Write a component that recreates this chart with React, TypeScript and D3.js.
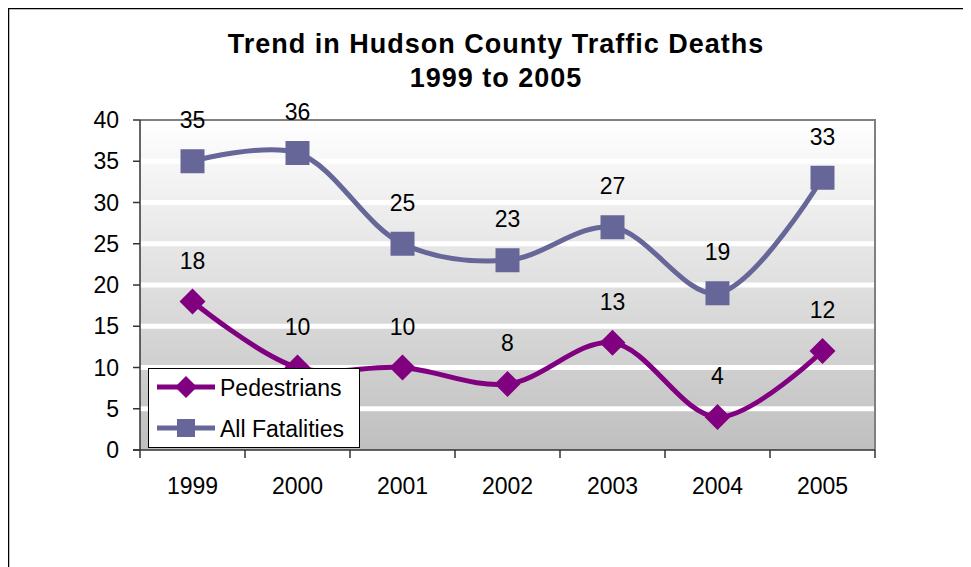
import React from "react";
import * as d3 from "d3";

// chart data
const years = ["1999", "2000", "2001", "2002", "2003", "2004", "2005"];
const pedestrians = [18, 10, 10, 8, 13, 4, 12];
const allFatalities = [35, 36, 25, 23, 27, 19, 33];
const yTicks = [0, 5, 10, 15, 20, 25, 30, 35, 40];

const W = 971;
const H = 567;
const plot = { left: 140, right: 875, top: 120, bottom: 450 };
const font = "'Liberation Sans', Arial, sans-serif";

const PED_COLOR = "#800080";
const ALL_COLOR = "#666699";

const App = () => {
  const x = d3
    .scaleBand()
    .domain(years)
    .range([plot.left, plot.right]);
  const y = d3.scaleLinear().domain([0, 40]).range([plot.bottom, plot.top]);
  const cx = (yr: string) => (x(yr) ?? 0) + x.bandwidth() / 2;

  const line = d3
    .line<number>()
    .x((_, i) => cx(years[i]))
    .y((d) => y(d))
    .curve(d3.curveCatmullRom.alpha(0.5));

  const square = d3.symbol(d3.symbolSquare, 576)();
  const diamond = (s: number) =>
    `M0,${-s}L${s},0L0,${s}L${-s},0Z`;

  return (
    <svg width={W - 8} height={H - 8} style={{ display: "block" }}>
      <defs>
        <linearGradient id="bg" x1="0" y1="0" x2="0" y2="1">
          <stop offset="0%" stopColor="#ffffff" />
          <stop offset="100%" stopColor="#bfbfbf" />
        </linearGradient>
      </defs>
      <g transform="translate(-8,-8)">
        {/* outer frame */}
        <rect x={8.5} y={8.5} width={1200} height={1200} fill="#fff" stroke="#000" strokeWidth={1.5} />

        {/* title */}
        <text x={496} y={53} textAnchor="middle" fontFamily={font} fontWeight="bold" fontSize={27} letterSpacing={1}>
          Trend in Hudson County Traffic Deaths
        </text>
        <text x={496} y={87} textAnchor="middle" fontFamily={font} fontWeight="bold" fontSize={27} letterSpacing={1}>
          1999 to 2005
        </text>

        {/* plot area */}
        <rect
          x={plot.left}
          y={plot.top}
          width={plot.right - plot.left}
          height={plot.bottom - plot.top}
          fill="url(#bg)"
        />
        {yTicks.slice(1).map((t) => (
          <line key={t} x1={plot.left} x2={plot.right} y1={y(t)} y2={y(t)} stroke="#fff" strokeWidth={5} />
        ))}
        <path
          d={`M${plot.left},${plot.top}H${plot.right}V${plot.bottom}`}
          fill="none"
          stroke="#808080"
          strokeWidth={2}
        />

        {/* axes */}
        <line x1={plot.left} x2={plot.left} y1={plot.top} y2={plot.bottom} stroke="#333" strokeWidth={1.5} />
        <line x1={plot.left - 7} x2={plot.right} y1={plot.bottom} y2={plot.bottom} stroke="#333" strokeWidth={1.5} />
        {yTicks.map((t) => (
          <g key={t}>
            <line x1={plot.left - 7} x2={plot.left} y1={y(t)} y2={y(t)} stroke="#333" strokeWidth={1.5} />
            <text x={119} y={y(t) + 8} textAnchor="end" fontFamily={font} fontSize={23}>
              {t}
            </text>
          </g>
        ))}
        {years.map((yr) => (
          <g key={yr}>
            <line x1={x(yr) ?? 0} x2={x(yr) ?? 0} y1={plot.bottom} y2={plot.bottom + 8} stroke="#333" strokeWidth={1.5} />
            <text x={cx(yr)} y={494} textAnchor="middle" fontFamily={font} fontSize={23}>
              {yr}
            </text>
          </g>
        ))}
        <line x1={plot.right} x2={plot.right} y1={plot.bottom} y2={plot.bottom + 8} stroke="#333" strokeWidth={1.5} />

        {/* series */}
        <path d={line(allFatalities) ?? ""} fill="none" stroke={ALL_COLOR} strokeWidth={5} />
        {allFatalities.map((v, i) => (
          <g key={i}>
            <path d={square ?? ""} transform={`translate(${cx(years[i])},${y(v)})`} fill={ALL_COLOR} />
            <text x={cx(years[i])} y={y(v) - 33} textAnchor="middle" fontFamily={font} fontSize={23}>
              {v}
            </text>
          </g>
        ))}
        <path d={line(pedestrians) ?? ""} fill="none" stroke={PED_COLOR} strokeWidth={5} />
        {pedestrians.map((v, i) => (
          <g key={i}>
            <path d={diamond(13)} transform={`translate(${cx(years[i])},${y(v)})`} fill={PED_COLOR} />
            <text x={cx(years[i])} y={y(v) - 33} textAnchor="middle" fontFamily={font} fontSize={23}>
              {v}
            </text>
          </g>
        ))}

        {/* legend */}
        <rect x={148.5} y={368.5} width={211} height={79} fill="#fff" stroke="#000" strokeWidth={1} />
        <line x1={157} x2={215} y1={387} y2={387} stroke={PED_COLOR} strokeWidth={5} />
        <path d={diamond(11)} transform="translate(186,387)" fill={PED_COLOR} />
        <text x={220} y={396} fontFamily={font} fontSize={23}>
          Pedestrians
        </text>
        <line x1={157} x2={215} y1={428} y2={428} stroke={ALL_COLOR} strokeWidth={5} />
        <path d={d3.symbol(d3.symbolSquare, 324)() ?? ""} transform="translate(186,428)" fill={ALL_COLOR} />
        <text x={220} y={437} fontFamily={font} fontSize={23}>
          All Fatalities
        </text>
      </g>
    </svg>
  );
};

export default App;
